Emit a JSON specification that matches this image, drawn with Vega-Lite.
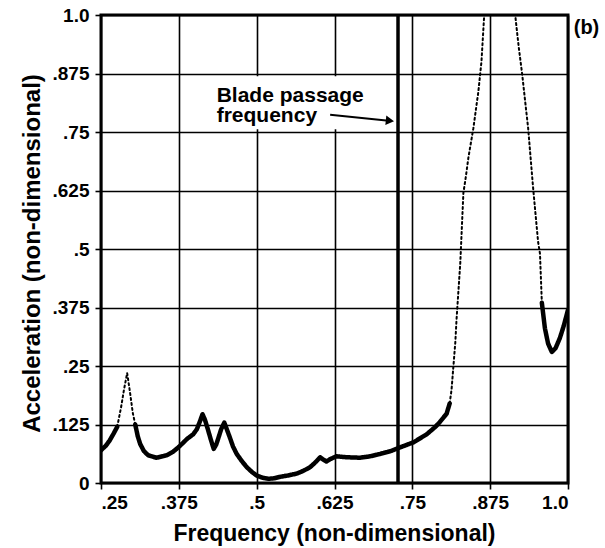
{
  "$schema": "https://vega.github.io/schema/vega-lite/v6.json",
  "width": 467,
  "height": 468,
  "autosize": {"type": "none"},
  "padding": {"left": 101, "top": 15, "right": 37, "bottom": 65},
  "background": "white",
  "config": {
    "view": {"stroke": "black", "strokeWidth": 3},
    "font": "Liberation Sans",
    "axis": {
      "grid": true, "gridColor": "black", "gridWidth": 1.6, "gridOpacity": 1,
      "domain": false, "ticks": true, "tickColor": "black", "tickWidth": 1.6, "tickSize": 6,
      "labelFont": "Liberation Sans", "labelFontWeight": "bold", "labelFontSize": 19, "labelColor": "black",
      "titleFont": "Liberation Sans", "titleFontWeight": "bold", "titleFontSize": 23, "titleColor": "black"
    }
  },
  "datasets": {
    "curve": [
      {"x": 0.25, "y": 0.07, "seg": 1, "style": "solid"},
      {"x": 0.258, "y": 0.08, "seg": 1, "style": "solid"},
      {"x": 0.264, "y": 0.091, "seg": 1, "style": "solid"},
      {"x": 0.27, "y": 0.105, "seg": 1, "style": "solid"},
      {"x": 0.276, "y": 0.12, "seg": 1, "style": "solid"},
      {"x": 0.276, "y": 0.12, "seg": 2, "style": "dotted"},
      {"x": 0.282, "y": 0.16, "seg": 2, "style": "dotted"},
      {"x": 0.287, "y": 0.2, "seg": 2, "style": "dotted"},
      {"x": 0.292, "y": 0.235, "seg": 2, "style": "dotted"},
      {"x": 0.297, "y": 0.19, "seg": 2, "style": "dotted"},
      {"x": 0.301, "y": 0.15, "seg": 2, "style": "dotted"},
      {"x": 0.305, "y": 0.125, "seg": 2, "style": "dotted"},
      {"x": 0.305, "y": 0.125, "seg": 3, "style": "solid"},
      {"x": 0.309, "y": 0.1, "seg": 3, "style": "solid"},
      {"x": 0.313, "y": 0.083, "seg": 3, "style": "solid"},
      {"x": 0.319, "y": 0.068, "seg": 3, "style": "solid"},
      {"x": 0.326, "y": 0.059, "seg": 3, "style": "solid"},
      {"x": 0.339, "y": 0.054, "seg": 3, "style": "solid"},
      {"x": 0.355, "y": 0.059, "seg": 3, "style": "solid"},
      {"x": 0.365, "y": 0.066, "seg": 3, "style": "solid"},
      {"x": 0.374, "y": 0.076, "seg": 3, "style": "solid"},
      {"x": 0.382, "y": 0.086, "seg": 3, "style": "solid"},
      {"x": 0.388, "y": 0.094, "seg": 3, "style": "solid"},
      {"x": 0.398, "y": 0.104, "seg": 3, "style": "solid"},
      {"x": 0.404, "y": 0.115, "seg": 3, "style": "solid"},
      {"x": 0.409, "y": 0.132, "seg": 3, "style": "solid"},
      {"x": 0.413, "y": 0.147, "seg": 3, "style": "solid"},
      {"x": 0.417, "y": 0.135, "seg": 3, "style": "solid"},
      {"x": 0.422, "y": 0.113, "seg": 3, "style": "solid"},
      {"x": 0.427, "y": 0.09, "seg": 3, "style": "solid"},
      {"x": 0.431, "y": 0.073, "seg": 3, "style": "solid"},
      {"x": 0.435, "y": 0.082, "seg": 3, "style": "solid"},
      {"x": 0.438, "y": 0.094, "seg": 3, "style": "solid"},
      {"x": 0.443, "y": 0.115, "seg": 3, "style": "solid"},
      {"x": 0.448, "y": 0.129, "seg": 3, "style": "solid"},
      {"x": 0.452, "y": 0.115, "seg": 3, "style": "solid"},
      {"x": 0.457, "y": 0.097, "seg": 3, "style": "solid"},
      {"x": 0.462, "y": 0.078, "seg": 3, "style": "solid"},
      {"x": 0.468, "y": 0.062, "seg": 3, "style": "solid"},
      {"x": 0.476, "y": 0.047, "seg": 3, "style": "solid"},
      {"x": 0.484, "y": 0.034, "seg": 3, "style": "solid"},
      {"x": 0.492, "y": 0.024, "seg": 3, "style": "solid"},
      {"x": 0.5, "y": 0.016, "seg": 3, "style": "solid"},
      {"x": 0.51, "y": 0.011, "seg": 3, "style": "solid"},
      {"x": 0.519, "y": 0.009, "seg": 3, "style": "solid"},
      {"x": 0.528, "y": 0.01, "seg": 3, "style": "solid"},
      {"x": 0.537, "y": 0.013, "seg": 3, "style": "solid"},
      {"x": 0.55, "y": 0.016, "seg": 3, "style": "solid"},
      {"x": 0.564, "y": 0.02, "seg": 3, "style": "solid"},
      {"x": 0.575, "y": 0.026, "seg": 3, "style": "solid"},
      {"x": 0.586, "y": 0.034, "seg": 3, "style": "solid"},
      {"x": 0.595, "y": 0.045, "seg": 3, "style": "solid"},
      {"x": 0.602, "y": 0.055, "seg": 3, "style": "solid"},
      {"x": 0.607, "y": 0.05, "seg": 3, "style": "solid"},
      {"x": 0.612, "y": 0.046, "seg": 3, "style": "solid"},
      {"x": 0.618, "y": 0.051, "seg": 3, "style": "solid"},
      {"x": 0.628, "y": 0.057, "seg": 3, "style": "solid"},
      {"x": 0.645, "y": 0.055, "seg": 3, "style": "solid"},
      {"x": 0.666, "y": 0.054, "seg": 3, "style": "solid"},
      {"x": 0.682, "y": 0.057, "seg": 3, "style": "solid"},
      {"x": 0.698, "y": 0.062, "seg": 3, "style": "solid"},
      {"x": 0.715, "y": 0.068, "seg": 3, "style": "solid"},
      {"x": 0.73, "y": 0.076, "seg": 3, "style": "solid"},
      {"x": 0.752, "y": 0.087, "seg": 3, "style": "solid"},
      {"x": 0.773, "y": 0.104, "seg": 3, "style": "solid"},
      {"x": 0.787, "y": 0.12, "seg": 3, "style": "solid"},
      {"x": 0.794, "y": 0.13, "seg": 3, "style": "solid"},
      {"x": 0.805, "y": 0.148, "seg": 3, "style": "solid"},
      {"x": 0.81, "y": 0.17, "seg": 3, "style": "solid"},
      {"x": 0.81, "y": 0.17, "seg": 4, "style": "dotted"},
      {"x": 0.813, "y": 0.2, "seg": 4, "style": "dotted"},
      {"x": 0.816, "y": 0.25, "seg": 4, "style": "dotted"},
      {"x": 0.819, "y": 0.3, "seg": 4, "style": "dotted"},
      {"x": 0.821, "y": 0.35, "seg": 4, "style": "dotted"},
      {"x": 0.824, "y": 0.41, "seg": 4, "style": "dotted"},
      {"x": 0.827, "y": 0.47, "seg": 4, "style": "dotted"},
      {"x": 0.832, "y": 0.62, "seg": 4, "style": "dotted"},
      {"x": 0.836, "y": 0.655, "seg": 4, "style": "dotted"},
      {"x": 0.84, "y": 0.695, "seg": 4, "style": "dotted"},
      {"x": 0.848, "y": 0.758, "seg": 4, "style": "dotted"},
      {"x": 0.856, "y": 0.836, "seg": 4, "style": "dotted"},
      {"x": 0.861, "y": 0.9, "seg": 4, "style": "dotted"},
      {"x": 0.865, "y": 0.99, "seg": 4, "style": "dotted"},
      {"x": 0.87, "y": 1.08, "seg": 4, "style": "dotted"},
      {"x": 0.88, "y": 1.2, "seg": 4, "style": "dotted"},
      {"x": 0.89, "y": 1.25, "seg": 4, "style": "dotted"},
      {"x": 0.9, "y": 1.2, "seg": 4, "style": "dotted"},
      {"x": 0.91, "y": 1.08, "seg": 4, "style": "dotted"},
      {"x": 0.916, "y": 0.99, "seg": 4, "style": "dotted"},
      {"x": 0.921, "y": 0.93, "seg": 4, "style": "dotted"},
      {"x": 0.926, "y": 0.878, "seg": 4, "style": "dotted"},
      {"x": 0.931, "y": 0.818, "seg": 4, "style": "dotted"},
      {"x": 0.936, "y": 0.758, "seg": 4, "style": "dotted"},
      {"x": 0.944, "y": 0.63, "seg": 4, "style": "dotted"},
      {"x": 0.952, "y": 0.515, "seg": 4, "style": "dotted"},
      {"x": 0.955, "y": 0.49, "seg": 4, "style": "dotted"},
      {"x": 0.958, "y": 0.385, "seg": 4, "style": "dotted"},
      {"x": 0.958, "y": 0.385, "seg": 5, "style": "solid"},
      {"x": 0.963, "y": 0.33, "seg": 5, "style": "solid"},
      {"x": 0.968, "y": 0.298, "seg": 5, "style": "solid"},
      {"x": 0.974, "y": 0.28, "seg": 5, "style": "solid"},
      {"x": 0.98, "y": 0.288, "seg": 5, "style": "solid"},
      {"x": 0.987, "y": 0.31, "seg": 5, "style": "solid"},
      {"x": 0.993, "y": 0.335, "seg": 5, "style": "solid"},
      {"x": 1.0, "y": 0.37, "seg": 5, "style": "solid"}
    ]
  },
  "layer": [
    {
      "data": {"values": [{"x": 0.43, "x2": 0.724, "y": 0.756, "y2": 0.869}]},
      "mark": {"type": "rect", "color": "white", "opacity": 1},
      "encoding": {
        "x": {
          "field": "x", "type": "quantitative",
          "scale": {"domain": [0.25, 1.0], "nice": false, "zero": false},
          "axis": {
            "values": [0.25, 0.375, 0.5, 0.625, 0.75, 0.875, 1.0],
            "labelExpr": "datum.value >= 1 ? '1.0' : slice(format(datum.value, '.3~f'), 1)",
            "labelPadding": 4,
            "title": "Frequency (non-dimensional)",
            "titleX": 233, "titleY": 57, "titleBaseline": "alphabetic", "titleAlign": "center"
          }
        },
        "x2": {"field": "x2"},
        "y": {
          "field": "y", "type": "quantitative",
          "scale": {"domain": [0, 1.0], "nice": false},
          "axis": {
            "values": [0, 0.125, 0.25, 0.375, 0.5, 0.625, 0.75, 0.875, 1.0],
            "labelExpr": "datum.value == 0 ? '0' : datum.value >= 1 ? '1.0' : slice(format(datum.value, '.3~f'), 1)",
            "labelPadding": 6,
            "title": "Acceleration (non-dimensional)",
            "titleFontSize": 24,
            "titleX": -62, "titleY": 238, "titleAngle": -90, "titleBaseline": "alphabetic", "titleAlign": "center"
          }
        },
        "y2": {"field": "y2"}
      }
    },
    {
      "data": {"values": [{"x": 0.727}]},
      "mark": {"type": "rule", "color": "black", "strokeWidth": 3.5},
      "encoding": {
        "x": {"field": "x", "type": "quantitative"}
      }
    },
    {
      "data": {"name": "curve"},
      "mark": {"type": "line", "color": "black", "clip": true, "strokeCap": "round", "strokeJoin": "round"},
      "encoding": {
        "x": {"field": "x", "type": "quantitative"},
        "y": {"field": "y", "type": "quantitative"},
        "detail": {"field": "seg"},
        "strokeDash": {
          "field": "style", "type": "nominal",
          "scale": {"domain": ["solid", "dotted"], "range": [[1, 0], [2, 3]]},
          "legend": null
        },
        "strokeWidth": {
          "field": "style", "type": "nominal",
          "scale": {"domain": ["solid", "dotted"], "range": [4.5, 2]},
          "legend": null
        }
      }
    },
    {
      "data": {"values": [{"x": 0.4358, "y": 0.814, "t": "Blade passage"}, {"x": 0.4358, "y": 0.772, "t": "frequency"}]},
      "mark": {"type": "text", "align": "left", "baseline": "alphabetic", "fontSize": 21, "fontWeight": "bold", "font": "Liberation Sans", "color": "black"},
      "encoding": {
        "x": {"field": "x", "type": "quantitative"},
        "y": {"field": "y", "type": "quantitative"},
        "text": {"field": "t"}
      }
    },
    {
      "data": {"values": [{"x": 0.618, "y": 0.787, "x2": 0.712, "y2": 0.774}]},
      "mark": {"type": "rule", "color": "black", "strokeWidth": 2},
      "encoding": {
        "x": {"field": "x", "type": "quantitative"},
        "y": {"field": "y", "type": "quantitative"},
        "x2": {"field": "x2"},
        "y2": {"field": "y2"}
      }
    },
    {
      "data": {"values": [{"x": 0.714, "y": 0.774}]},
      "mark": {"type": "point", "shape": "triangle-right", "filled": true, "color": "black", "size": 90, "angle": 6, "opacity": 1},
      "encoding": {
        "x": {"field": "x", "type": "quantitative"},
        "y": {"field": "y", "type": "quantitative"}
      }
    },
    {
      "data": {"values": [{"x": 1.0297, "y": 0.96, "t": "(b)"}]},
      "mark": {"type": "text", "align": "center", "baseline": "alphabetic", "fontSize": 20, "fontWeight": "bold", "font": "Liberation Sans", "color": "black", "clip": false},
      "encoding": {
        "x": {"field": "x", "type": "quantitative"},
        "y": {"field": "y", "type": "quantitative"},
        "text": {"field": "t"}
      }
    }
  ]
}
